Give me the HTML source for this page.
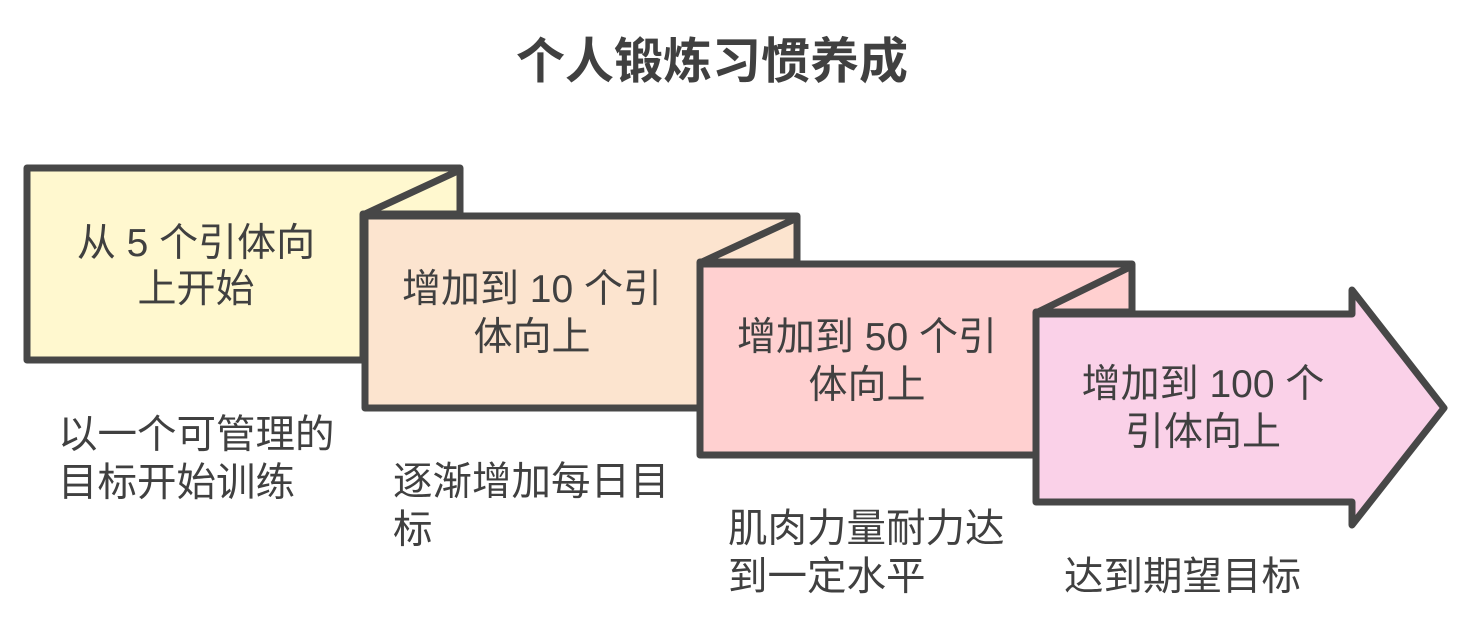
<!DOCTYPE html>
<html><head><meta charset="utf-8"><style>
html,body{margin:0;padding:0;background:#fff;width:1473px;height:624px;overflow:hidden}
svg text{font-family:"Liberation Sans","Noto Sans CJK SC",sans-serif;fill:#404040}
</style></head><body>
<svg width="1473" height="624" viewBox="0 0 1473 624" xmlns="http://www.w3.org/2000/svg">
<text x="712" y="78" font-size="49" font-weight="bold" text-anchor="middle">个人锻炼习惯养成</text>
<g stroke="#474747" stroke-width="7" stroke-linejoin="round" stroke-linecap="round">
<path d="M27,168 L460,168 L460,214 L363,214 L363,360 L27,360 Z" fill="#fff8cf"/>
<path d="M460,170 L365,214" fill="none"/>
<path d="M365,216 L797,216 L797,262 L700,262 L700,408 L365,408 Z" fill="#fce4cf"/>
<path d="M797,218 L702,262" fill="none"/>
<path d="M700,264 L1132,264 L1132,312 L1036,312 L1036,455 L700,455 Z" fill="#ffd0d0"/>
<path d="M1132,266 L1038,312" fill="none"/>
<path d="M1036,314 L1352,314 L1352,290 L1444,408 L1352,525 L1352,502 L1036,502 Z" fill="#fad1e8"/>
</g>
<g font-size="39" text-anchor="middle">
<text x="196" y="256">从 5 个引体向</text>
<text x="196" y="302">上开始</text>
<text x="532" y="302">增加到 10 个引</text>
<text x="532" y="350">体向上</text>
<text x="867" y="350">增加到 50 个引</text>
<text x="867" y="398">体向上</text>
<text x="1203" y="397">增加到 100 个</text>
<text x="1203" y="445">引体向上</text>
</g>
<g font-size="39.5">
<text x="58" y="448">以一个可管理的</text>
<text x="58" y="496">目标开始训练</text>
<text x="393" y="495">逐渐增加每日目</text>
<text x="393" y="543">标</text>
<text x="728" y="542">肌肉力量耐力达</text>
<text x="728" y="590">到一定水平</text>
<text x="1064" y="590">达到期望目标</text>
</g>
</svg>
</body></html>
